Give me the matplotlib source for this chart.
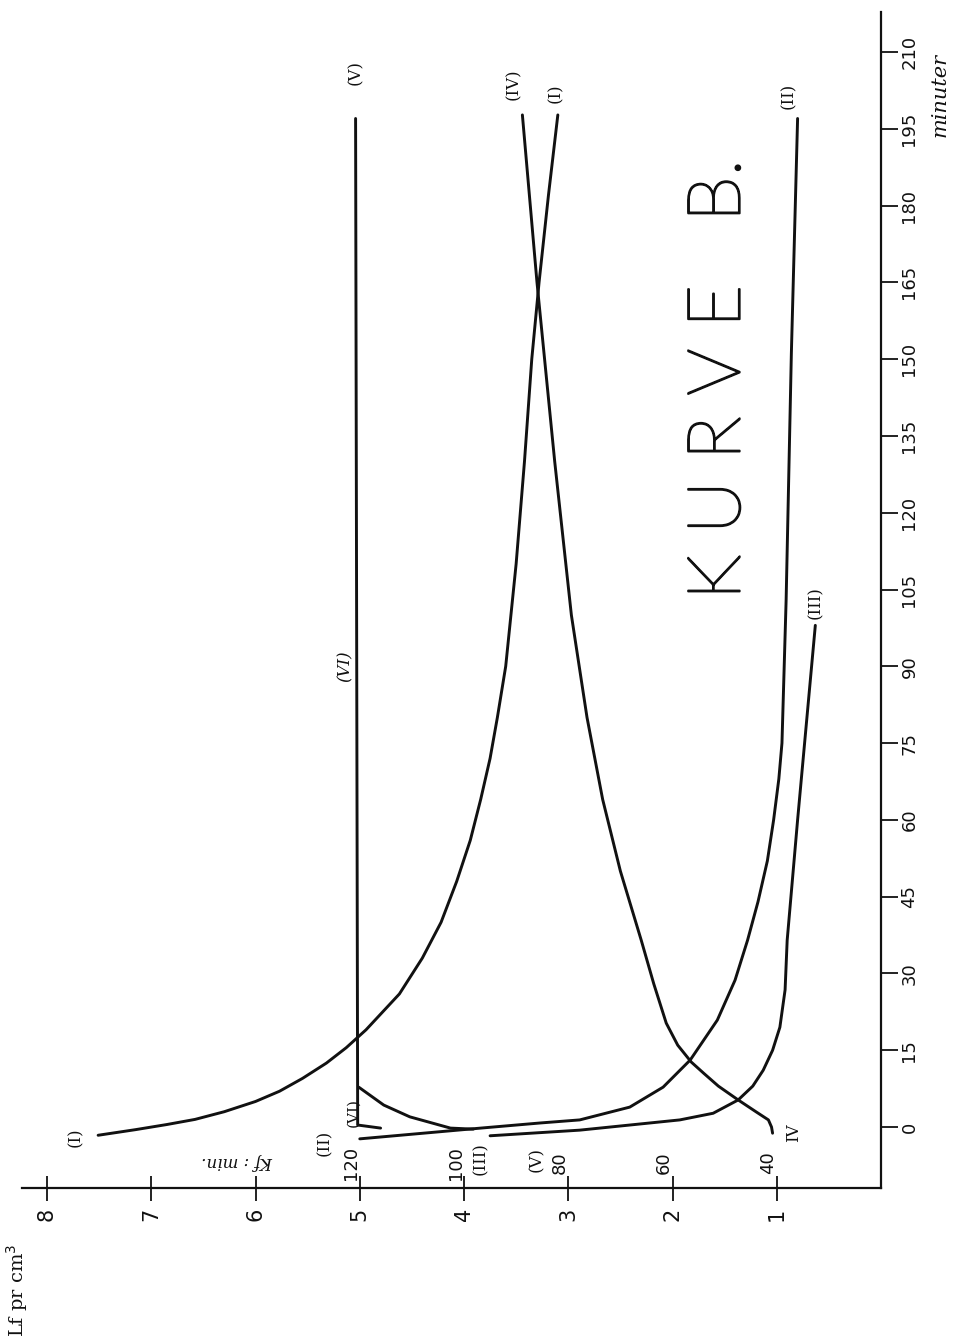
import matplotlib.pyplot as plt
import matplotlib.patheffects as pe

# Lf per cm3 (horizontal, increasing to the left) against minutes (vertical)
lf_ticks = [1, 2, 3, 4, 5, 6, 7, 8]
min_ticks = [0, 15, 30, 45, 60, 75, 90, 105, 120, 135, 150, 165, 180, 195, 210]
kf_ticks = [40, 60, 80, 100, 120]

curve_I_min = [-1.6, -0.5, 0.5, 1.5, 3, 5, 7, 9.5, 12.5, 15.5, 19, 26, 33, 40, 48, 56,
               64, 72, 80, 90, 110, 130, 150, 165, 182, 197.7]
curve_I_lf = [7.51, 7.15, 6.85, 6.58, 6.3, 6.0, 5.77, 5.55, 5.32, 5.13, 4.94, 4.62, 4.4,
              4.22, 4.07, 3.94, 3.84, 3.75, 3.68, 3.6, 3.5, 3.42, 3.35, 3.28, 3.19, 3.10]

curve_II_min = [-2.3, -0.2, 0.8, 1.4, 3.9, 7.8, 13.1, 20.9, 28.7, 36.5, 44, 52, 60, 68,
                75, 103, 151, 197]
curve_II_lf = [5.0, 3.84, 3.27, 2.89, 2.41, 2.09, 1.83, 1.57, 1.40, 1.28, 1.18, 1.09,
               1.03, 0.98, 0.95, 0.91, 0.86, 0.80]

curve_III_min = [-1.7, -0.6, 1.4, 2.7, 5.3, 8, 11.1, 15, 19.5, 26.8, 36.5, 60, 98]
curve_III_lf = [3.75, 2.89, 1.93, 1.61, 1.37, 1.23, 1.13, 1.04, 0.97, 0.92, 0.90, 0.80, 0.63]

curve_IV_min = [-1.2, 0, 1.4, 3, 5.3, 8, 10.5, 12.7, 16, 20.3, 28, 36.5, 50, 64, 80, 100,
                130, 165, 197.7]
curve_IV_lf = [1.04, 1.05, 1.08, 1.2, 1.37, 1.56, 1.7, 1.82, 1.95, 2.06, 2.18, 2.3, 2.5,
               2.67, 2.82, 2.97, 3.13, 3.30, 3.44]

curve_V_min = [-0.2, 0.4, 197]
curve_V_lf = [4.8, 5.02, 5.04]

curve_VI_min = [-0.4, -0.2, 2.0, 4.3, 7.8]
curve_VI_lf = [3.91, 4.13, 4.52, 4.77, 5.01]

W, H = 959, 1344
fig = plt.figure(figsize=(W / 100, H / 100), dpi=100)
fig.patch.set_facecolor("white")
ax = fig.add_axes([22 / W, 156 / H, 859 / W, 1176 / H])
ax.set_xlim(8.24, 0)
ax.set_ylim(-11.9, 217.8)

ink = "#111111"
for s in ["top", "left"]:
    ax.spines[s].set_visible(False)
for s in ["bottom", "right"]:
    ax.spines[s].set_linewidth(1.6)
    ax.spines[s].set_color(ink)

ax.set_xticks(lf_ticks)
ax.set_xticklabels([str(v) for v in lf_ticks], rotation=90, fontsize=15)
ax.tick_params(axis="x", direction="inout", length=18, width=1.3, pad=5, colors=ink)

ax.yaxis.tick_right()
ax.set_yticks(min_ticks)
ax.set_yticklabels([str(v) for v in min_ticks], rotation=90, va="center", fontsize=13)
ax.tick_params(axis="y", direction="out", length=12, width=1.3, pad=2, colors=ink)

lw = 2.1
for m, v in [(curve_I_min, curve_I_lf), (curve_II_min, curve_II_lf),
             (curve_III_min, curve_III_lf), (curve_IV_min, curve_IV_lf),
             (curve_V_min, curve_V_lf), (curve_VI_min, curve_VI_lf)]:
    ax.plot(v, m, color=ink, lw=lw, solid_capstyle="round", solid_joinstyle="round")

# Kf : min scale written above the Lf axis
for kf in kf_ticks:
    ax.text((kf - 20) / 20 + 0.08, -7.0, str(kf), rotation=90, fontsize=13,
            ha="center", va="center", color=ink)
ax.text(6.17, -6.8, "Kf : min.", rotation=180, fontsize=12, style="italic",
        family="DejaVu Serif", ha="center", va="center", color=ink)

lab = dict(rotation=90, fontsize=12, family="DejaVu Serif", ha="center",
           va="center", color=ink)
# labels at curve ends
ax.text(5.04, 206, "(V)", **lab)
ax.text(3.53, 203.7, "(IV)", **lab)
ax.text(3.12, 202, "(I)", **lab)
ax.text(0.89, 201.4, "(II)", **lab)
ax.text(0.63, 102.5, "(III)", **lab)
ax.text(5.14, 90.0, "(VI)", rotation=90, fontsize=12, style="italic",
        family="DejaVu Serif", ha="center", va="center", color=ink)
# labels at curve starts
ax.text(7.73, -2.0, "(I)", **lab)
ax.text(5.34, -3.1, "(II)", **lab)
ax.text(5.06, 2.9, "(VI)", rotation=90, fontsize=11, family="DejaVu Serif",
        ha="center", va="center", color=ink)
ax.text(3.84, -6.1, "(III)", **lab)
ax.text(3.30, -6.4, "(V)", **lab)
ax.text(0.84, -1.0, "IV", **lab)

ax.text(1.55, 146, "K U R V E   B.", rotation=90, fontsize=53, family="Lato",
        fontweight="light", ha="center", va="center", color=ink,
        path_effects=[pe.withStroke(linewidth=1.4, foreground=ink)])

fig.text(940 / W, 1 - 95 / H, "minuter", rotation=90, fontsize=15,
         style="italic", family="DejaVu Serif", ha="center", va="center", color=ink)
fig.text(17 / W, 1 - 1290 / H, "Lf pr cm$^3$", rotation=90, fontsize=14,
         family="DejaVu Serif", ha="center", va="center", color=ink)

fig.savefig("out.png", dpi=100, facecolor="white")
